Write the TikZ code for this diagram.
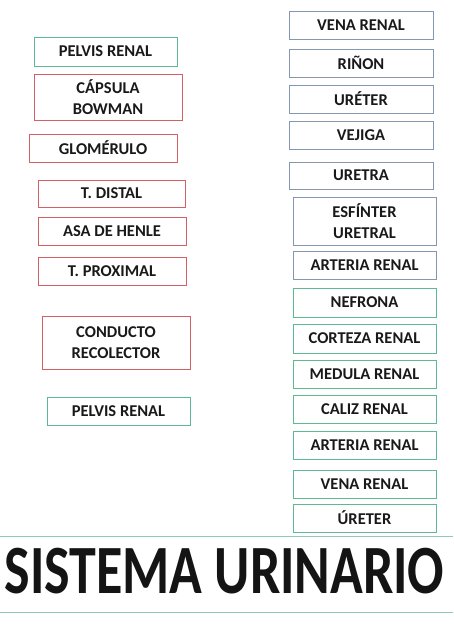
\documentclass[tikz,border=0pt]{standalone}
\usepackage{fontspec}
\setmainfont{Carlito}
\definecolor{bgreen}{HTML}{5DB894}
\definecolor{bred}{HTML}{D45F66}
\definecolor{bblue}{HTML}{8497B0}
\definecolor{tline}{HTML}{8FC9B9}
\tikzset{
  box/.style={draw=#1, line width=1pt, inner sep=0pt, align=center,
    font=\bfseries\fontsize{16.5}{21.5}\selectfont, text=black!90},
  bw/.style 2 args={minimum width=#1, minimum height=#2},
  titletext/.style={font=\bfseries\fontsize{54}{60}\selectfont, text=black!92, inner sep=0pt, anchor=base}
}
\begin{document}
\begin{tikzpicture}[x=1pt,y=-1pt]
\useasboundingbox (0,0) rectangle (453,640);
% left column
\node[box=bgreen, bw={143}{29}] (pr1) at (105.5,51.5) {PELVIS RENAL};
\node[box=bred, bw={148}{46}] (cap) at (108,97) {CÁPSULA\\BOWMAN};
\node[box=bred, bw={148}{28}] (glo) at (103,148) {GLOMÉRULO};
\node[box=bred, bw={147}{27}] (td) at (111.5,193.5) {T. DISTAL};
\node[box=bred, bw={148}{28}] (asa) at (112,231) {ASA DE HENLE};
\node[box=bred, bw={148}{28}] (tp) at (112,271) {T. PROXIMAL};
\node[box=bred, bw={148}{53}] (cr) at (116,342.5) {CONDUCTO\\RECOLECTOR};
\node[box=bgreen, bw={143}{28}] (pr2) at (118.5,411) {PELVIS RENAL};
% right column
\node[box=bblue, bw={144}{28}] (vr1) at (361,25) {VENA RENAL};
\node[box=bblue, bw={144}{28}] (rin) at (361,63) {RIÑON};
\node[box=bblue, bw={144}{28}] (ure) at (361,99) {URÉTER};
\node[box=bblue, bw={144}{28}] (vej) at (361,135) {VEJIGA};
\node[box=bblue, bw={144}{27}] (uretra) at (361,175.5) {URETRA};
\node[box=bblue, bw={143}{48}] (esf) at (364.5,221) {ESFÍNTER\\URETRAL};
\node[box=bblue, bw={143}{28}] (ar1) at (364.5,265) {ARTERIA RENAL};
\node[box=bgreen, bw={143}{29}] (nef) at (364.5,302.5) {NEFRONA};
\node[box=bgreen, bw={143}{29}] (cor) at (364.5,338.5) {CORTEZA RENAL};
\node[box=bgreen, bw={143}{28}] (med) at (364.5,374) {MEDULA RENAL};
\node[box=bgreen, bw={143}{28}] (cal) at (364.5,409) {CALIZ RENAL};
\node[box=bgreen, bw={143}{28}] (ar2) at (364.5,445) {ARTERIA RENAL};
\node[box=bgreen, bw={143}{28}] (vr2) at (364.5,484) {VENA RENAL};
\node[box=bgreen, bw={143}{28}] (ur2) at (364.5,518) {ÚRETER};
% title
\draw[tline, line width=1pt] (0,536) -- (453,536);
\draw[tline, line width=1pt] (0,612) -- (453,612);
\node[titletext] (title) at (224.5,593) {\scalebox{1}[1.28]{SISTEMA URINARIO}};
\end{tikzpicture}
\end{document}
